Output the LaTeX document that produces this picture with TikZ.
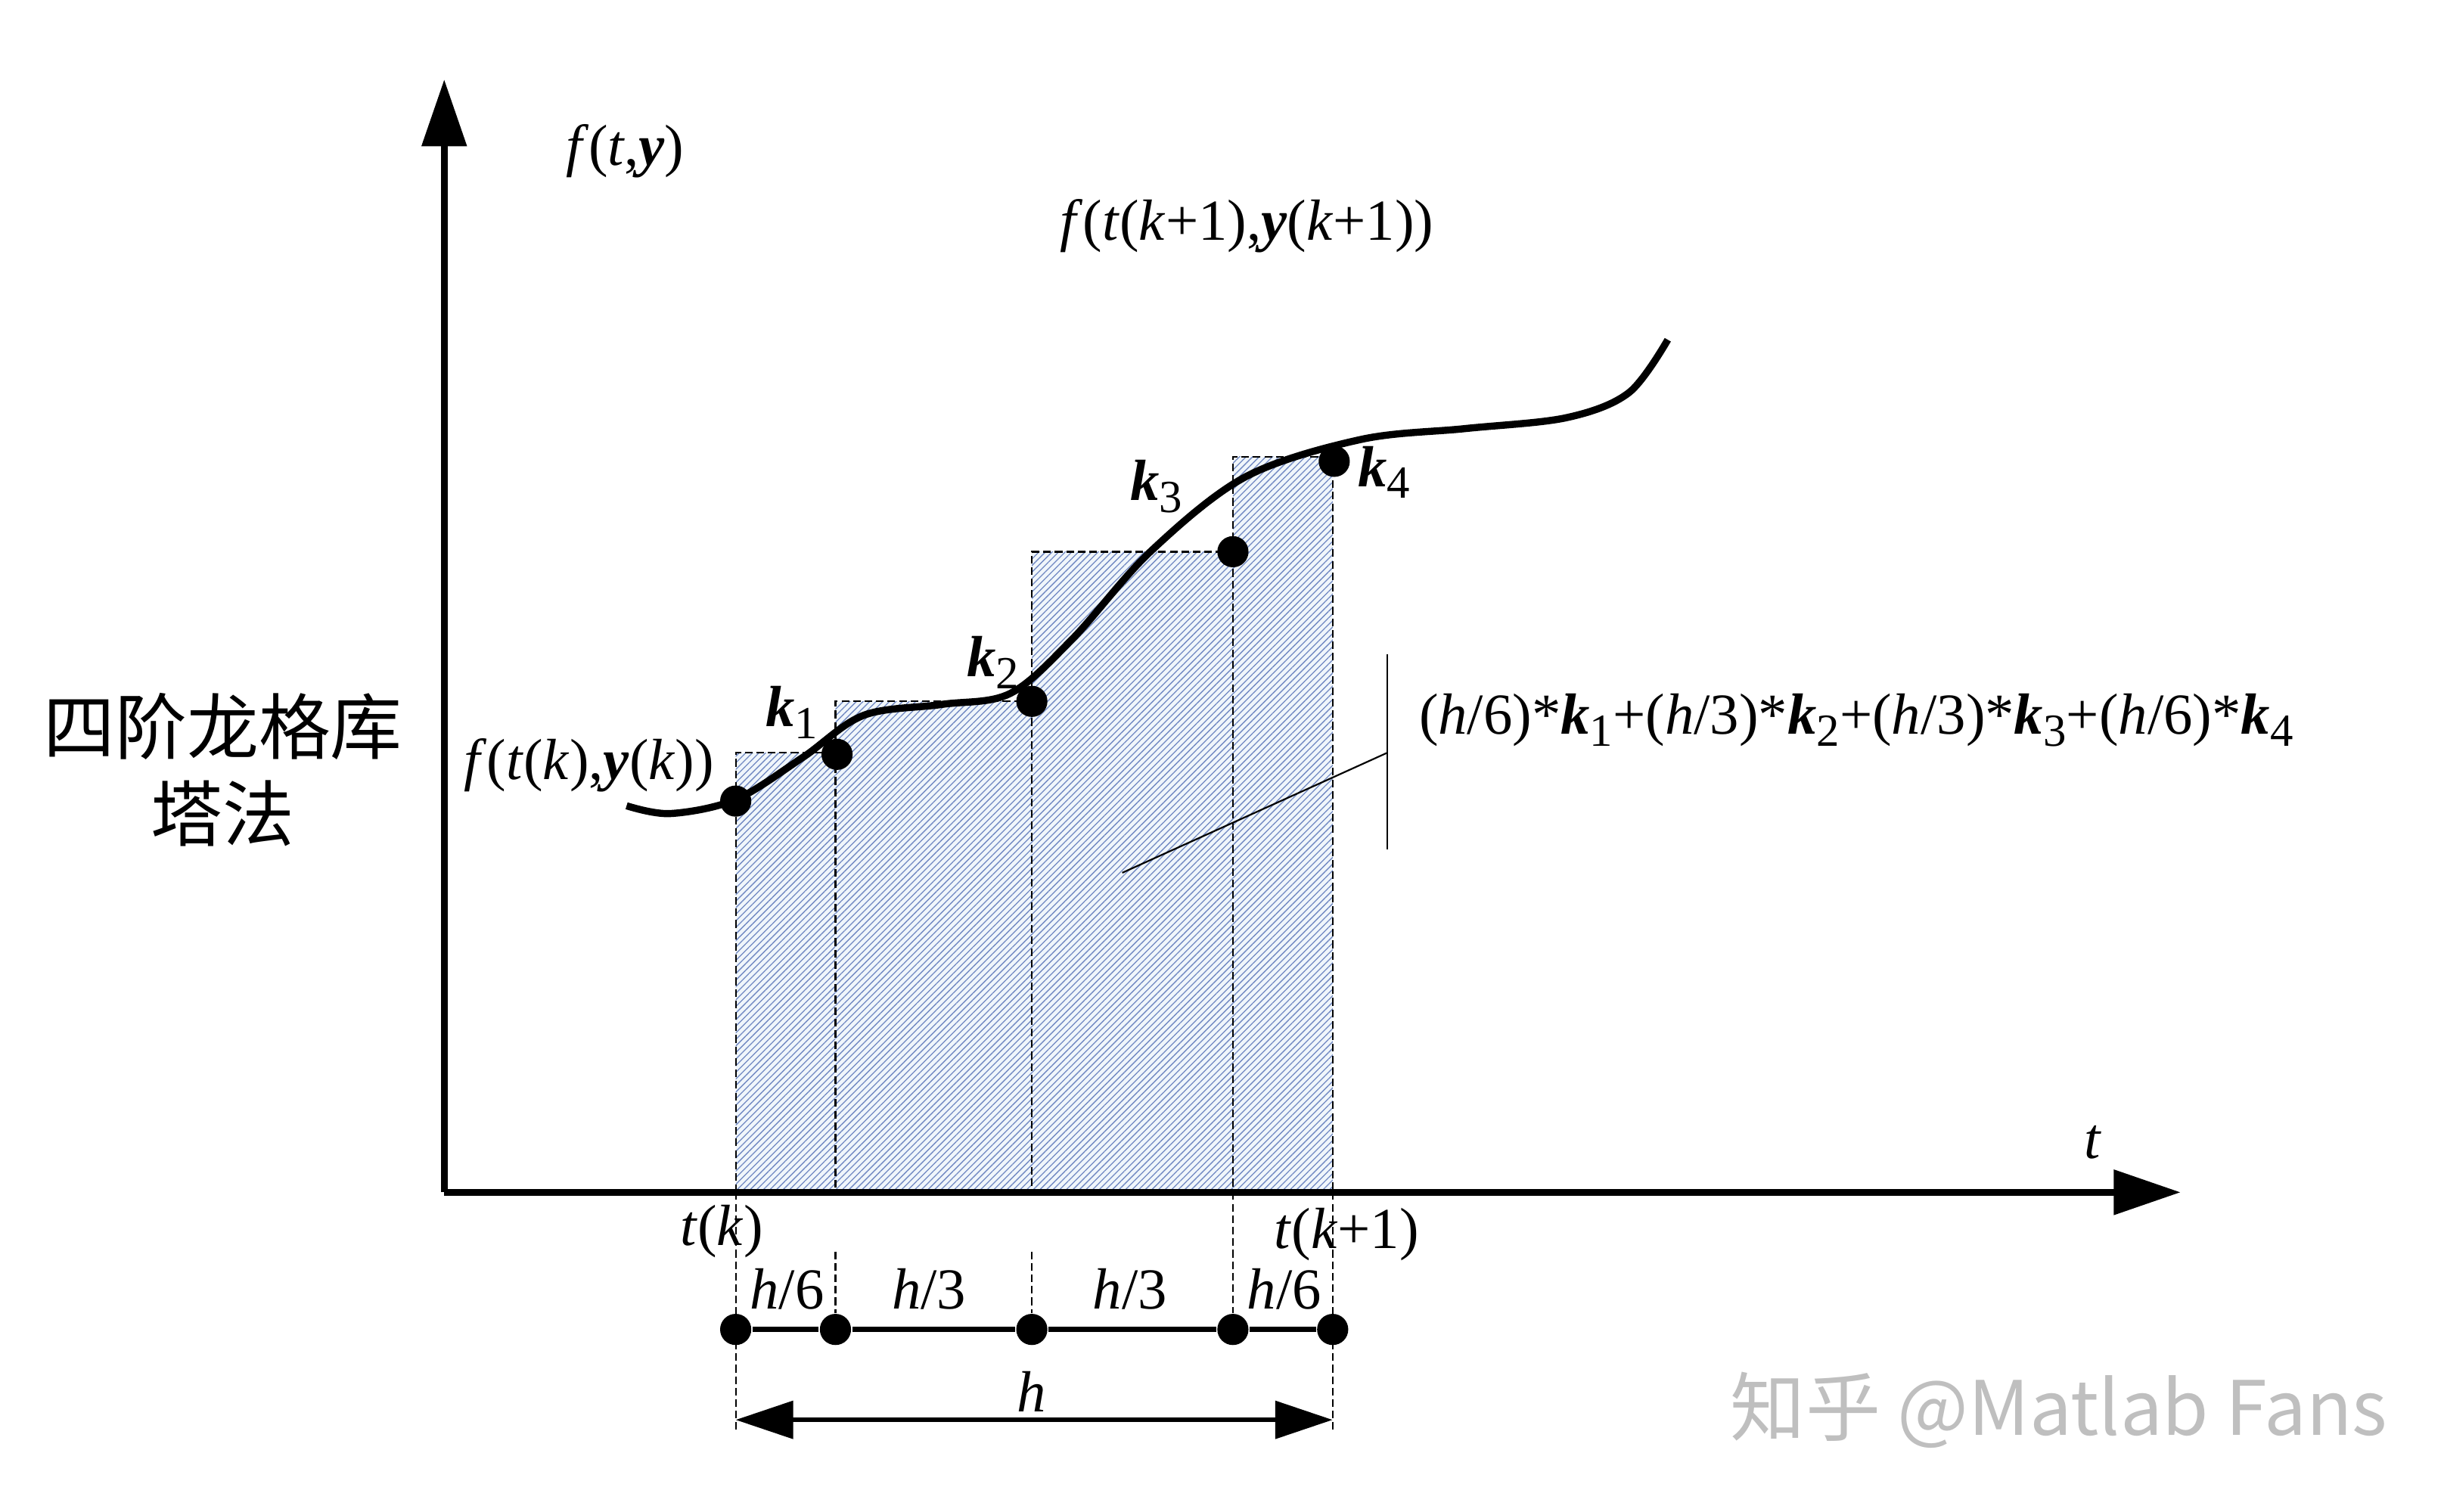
\documentclass[tikz,border=0pt]{standalone}
\usepackage{fontspec}
\setmainfont{Liberation Serif}
\newfontfamily\cjk{Noto Sans CJK SC}
\usepackage{xcolor}
\usetikzlibrary{arrows.meta,patterns.meta}
\definecolor{hachazul}{HTML}{7088C2}
\definecolor{fundoazul}{HTML}{F0F6FB}
\newcommand{\kb}[1]{\textbf{\textit{k}}\raisebox{-0.45ex}{\fontsize{8.4}{9}\selectfont #1}}

\begin{document}
\begin{tikzpicture}[x=0.1mm, y=-0.1mm,
      font=\fontsize{10.6}{12}\selectfont,
      eixo/.style={line width=1.25pt, -{Triangle[length=12.2pt,width=8pt]}},
      curva/.style={line width=1.3pt},
      ponto/.style={circle, fill, inner sep=0pt, minimum size=2mm},
      coluna/.style={preaction={fill=fundoazul}, pattern={Lines[angle=45,distance=0.85pt,line width=0.18pt]}, pattern color=hachazul},
      tracejado/.style={line width=0.3pt, dash pattern=on 1.4pt off 0.7pt},
      seta/.style={line width=0.9pt, {Triangle[length=10.5pt,width=6.8pt]}-{Triangle[length=10.5pt,width=6.8pt]}},
      guia/.style={line width=0.3pt}]
    \useasboundingbox (0,0) rectangle (1568,970);

    % colunas hachuradas
    \fill[coluna] (472,765) rectangle (536,483);
    \fill[coluna] (536,765) rectangle (662,450);
    \fill[coluna] (662,765) rectangle (791,354);
    \fill[coluna] (791,765) rectangle (855,293);
    \draw[tracejado] (472,765) |- (536,483) -- (536,765);
    \draw[tracejado] (536,483) |- (662,450) -- (662,765);
    \draw[tracejado] (662,450) |- (791,354) -- (791,765);
    \draw[tracejado] (791,354) |- (855,293) -- (855,765);

    % eixos
    \coordinate (O) at (285,765);
    \coordinate (topo) at (285,51);
    \coordinate (fim) at (1399,765);
    \draw[eixo] (O) -- (topo);
    \draw[eixo] (O) -- (fim);
    \node (rotT) at (1343,733) {\textit{t}};
    \node (rotF) at (401,97) {\textit{f}(\textit{t},\textbf{\textit{y}})};

    % curva
    \draw[curva] plot[smooth, tension=0.55] coordinates {(402,517) (430,522) (472,513) (515,486) (554,459) (604,452) (648,445) (688,410) (738,354) (799,306) (873,282) (940,275) (1005,268) (1045,252) (1070,218)};
    \node[ponto] (p0) at (472,514) {};
    \node[ponto] (p1) at (537,484) {};
    \node[ponto] (p2) at (662,450) {};
    \node[ponto] (p3) at (791,354) {};
    \node[ponto] (p4) at (856,296) {};
    \node (k1) at (508,457) {\kb{1}};
    \node (k2) at (637,425) {\kb{2}};
    \node (k3) at (742,312) {\kb{3}};
    \node (k4) at (888,303) {\kb{4}};
    \node (fk) at (378,491) {\textit{f}(\textit{t}(\textit{k}),\textbf{\textit{y}}(\textit{k}))};
    \node (fk1) at (800,145) {\textit{f}(\textit{t}(\textit{k}+1),\textbf{\textit{y}}(\textit{k}+1))};

    % soma ponderada
    \coordinate (c1) at (720,560);
    \coordinate (c2) at (890,483);
    \coordinate (c3) at (890,420);
    \coordinate (c4) at (890,545);
    \draw[guia] (c1) -- (c2);
    \draw[guia] (c3) -- (c4);
    \node[anchor=west] (soma) at (898,462) {(\textit{h}/6)*\kb{1}+(\textit{h}/3)*\kb{2}+(\textit{h}/3)*\kb{3}+(\textit{h}/6)*\kb{4}};

    % passo h
    \node (tk) at (463,790) {\textit{t}(\textit{k})};
    \node (tk1) at (864,792) {\textit{t}(\textit{k}+1)};
    \node[ponto] (b0) at (472,853) {};
    \node[ponto] (b1) at (536,853) {};
    \node[ponto] (b2) at (662,853) {};
    \node[ponto] (b3) at (791,853) {};
    \node[ponto] (b4) at (855,853) {};
    \draw[line width=0.9pt] (b0) -- (b1) -- (b2) -- (b3) -- (b4);
    \draw[tracejado] (472,765) -- (472,917);
    \draw[tracejado] (855,765) -- (855,917);
    \draw[tracejado] (536,803) -- (b1);
    \draw[tracejado] (662,803) -- (b2);
    \draw[tracejado] (791,765) -- (b3);
    \node (h1) at (505,827) {\textit{h}/6};
    \node (h2) at (596,827) {\textit{h}/3};
    \node (h3) at (725,827) {\textit{h}/3};
    \node (h4) at (824,827) {\textit{h}/6};
    \coordinate (hE) at (472,911);
    \coordinate (hD) at (855,911);
    \draw[seta] (hE) -- (hD);
    \node (h) at (662,893) {\textit{h}};

    % titulo
    \node[font=\cjk\fontsize{13.1}{15.9}\selectfont, align=center] (titulo) at (143,494) {四阶龙格库\\塔法};
    \node[font=\cjk\fontsize{13.7}{16}\selectfont, text=black!25] (marca) at (1321,905) {知乎 @Matlab Fans};
  \end{tikzpicture}
\end{document}
